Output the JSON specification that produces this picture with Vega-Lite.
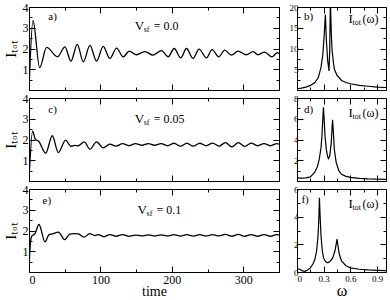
{
  "$schema": "https://vega.github.io/schema/vega-lite/v6.json",
  "padding": {"left": 2, "top": 0, "right": 1, "bottom": 0},
  "config": {
    "font": "Liberation Serif",
    "view": {"stroke": "black", "strokeWidth": 1},
    "axis": {"grid": false, "domain": false, "tickColor": "black", "tickSize": -4, "labelColor": "black", "labelFont": "Liberation Serif", "titleFont": "Liberation Serif", "titleFontWeight": "normal", "titleColor": "black", "labelPadding": 7}
  },
  "datasets": {
    "ta": [{"t":0,"I":0},{"t":5.6,"I":3.35},{"t":14.9,"I":1.08},{"t":24.7,"I":2.05},{"t":40.1,"I":1.6},{"t":50.3,"I":2.08},{"t":58.7,"I":1.39},{"t":67.6,"I":2.2},{"t":76,"I":1.36},{"t":85.3,"I":2.15},{"t":94.6,"I":1.39},{"t":103.9,"I":2.1},{"t":113.2,"I":1.52},{"t":122.6,"I":2.02},{"t":131.9,"I":1.6},{"t":140.3,"I":1.87},{"t":150.5,"I":1.7},{"t":162.2,"I":1.85},{"t":173.8,"I":1.68},{"t":185.5,"I":1.9},{"t":194.8,"I":1.6},{"t":203.2,"I":2.0},{"t":212.5,"I":1.55},{"t":220.4,"I":2.0},{"t":229.7,"I":1.52},{"t":238.1,"I":1.97},{"t":248.4,"I":1.55},{"t":256.3,"I":1.95},{"t":265.6,"I":1.6},{"t":274,"I":1.92},{"t":283.3,"I":1.68},{"t":292.6,"I":1.87},{"t":304.3,"I":1.7},{"t":313.6,"I":1.85},{"t":320.6,"I":1.7},{"t":329.9,"I":1.83},{"t":340.2,"I":1.6},{"t":347.6,"I":1.8},{"t":350,"I":1.75}],
    "tc": [{"t":0,"I":0},{"t":5.1,"I":2.4},{"t":9,"I":2.0},{"t":13.5,"I":1.92},{"t":23.3,"I":1.34},{"t":32.6,"I":2.18},{"t":41,"I":1.37},{"t":51.3,"I":1.97},{"t":58.7,"I":1.67},{"t":64,"I":1.72},{"t":69,"I":1.7},{"t":77.4,"I":1.89},{"t":85.3,"I":1.53},{"t":94.6,"I":1.89},{"t":104,"I":1.6},{"t":113,"I":1.78},{"t":122,"I":1.68},{"t":131,"I":1.8},{"t":140,"I":1.7},{"t":149,"I":1.8},{"t":158,"I":1.72},{"t":167,"I":1.8},{"t":176,"I":1.72},{"t":185,"I":1.8},{"t":194,"I":1.7},{"t":203,"I":1.82},{"t":212,"I":1.68},{"t":221,"I":1.82},{"t":230,"I":1.68},{"t":239,"I":1.82},{"t":248,"I":1.7},{"t":257,"I":1.83},{"t":266,"I":1.68},{"t":275,"I":1.85},{"t":284,"I":1.65},{"t":293,"I":1.85},{"t":302,"I":1.67},{"t":311,"I":1.83},{"t":320,"I":1.7},{"t":329,"I":1.8},{"t":338,"I":1.7},{"t":347,"I":1.8},{"t":350,"I":1.78}],
    "te": [{"t":0,"I":0},{"t":1.5,"I":1.2},{"t":3.7,"I":1.72},{"t":8.4,"I":1.85},{"t":14,"I":2.29},{"t":22.4,"I":1.45},{"t":28,"I":1.8},{"t":33,"I":1.84},{"t":41,"I":1.92},{"t":50,"I":1.56},{"t":57,"I":1.82},{"t":63,"I":1.85},{"t":69,"I":1.84},{"t":77,"I":1.68},{"t":85,"I":1.85},{"t":92,"I":1.76},{"t":97,"I":1.8},{"t":105,"I":1.7},{"t":113,"I":1.8},{"t":122,"I":1.72},{"t":131,"I":1.8},{"t":140,"I":1.72},{"t":149,"I":1.78},{"t":158,"I":1.74},{"t":167,"I":1.79},{"t":176,"I":1.74},{"t":185,"I":1.79},{"t":194,"I":1.74},{"t":203,"I":1.8},{"t":212,"I":1.73},{"t":221,"I":1.8},{"t":230,"I":1.73},{"t":239,"I":1.8},{"t":248,"I":1.74},{"t":257,"I":1.8},{"t":266,"I":1.74},{"t":275,"I":1.81},{"t":284,"I":1.73},{"t":293,"I":1.81},{"t":302,"I":1.72},{"t":311,"I":1.8},{"t":320,"I":1.72},{"t":329,"I":1.8},{"t":338,"I":1.72},{"t":347,"I":1.8},{"t":350,"I":1.79}],
    "sb": [{"w":0,"S":0.3},{"w":0.05,"S":0.45},{"w":0.1,"S":0.7},{"w":0.15,"S":1.1},{"w":0.2,"S":1.8},{"w":0.24,"S":3.0},{"w":0.27,"S":5.5},{"w":0.29,"S":8.5},{"w":0.305,"S":13},{"w":0.319,"S":18.2},{"w":0.33,"S":12},{"w":0.345,"S":7},{"w":0.36,"S":4.6},{"w":0.368,"S":10},{"w":0.375,"S":22},{"w":0.385,"S":14},{"w":0.394,"S":9.5},{"w":0.41,"S":6.5},{"w":0.42,"S":5},{"w":0.45,"S":3.5},{"w":0.5,"S":2.3},{"w":0.55,"S":1.8},{"w":0.6,"S":1.5},{"w":0.7,"S":1.1},{"w":0.8,"S":0.9},{"w":0.9,"S":0.7},{"w":1.0,"S":0.6}],
    "sd": [{"w":0,"S":0.3},{"w":0.05,"S":0.28},{"w":0.1,"S":0.3},{"w":0.15,"S":0.4},{"w":0.2,"S":0.85},{"w":0.23,"S":1.4},{"w":0.25,"S":2.1},{"w":0.27,"S":3.2},{"w":0.28,"S":4.3},{"w":0.29,"S":6.0},{"w":0.297,"S":7.1},{"w":0.305,"S":6.0},{"w":0.315,"S":4.3},{"w":0.33,"S":3.0},{"w":0.345,"S":2.3},{"w":0.355,"S":2.15},{"w":0.37,"S":2.5},{"w":0.385,"S":3.7},{"w":0.395,"S":5.3},{"w":0.4,"S":5.9},{"w":0.41,"S":4.5},{"w":0.42,"S":3.0},{"w":0.44,"S":1.8},{"w":0.47,"S":1.0},{"w":0.5,"S":0.65},{"w":0.55,"S":0.45},{"w":0.6,"S":0.35},{"w":0.7,"S":0.25},{"w":0.8,"S":0.2},{"w":0.9,"S":0.18},{"w":1.0,"S":0.15}],
    "sf": [{"w":0,"S":0.25},{"w":0.03,"S":0.2},{"w":0.06,"S":0.08},{"w":0.09,"S":0.05},{"w":0.12,"S":0.15},{"w":0.15,"S":0.3},{"w":0.18,"S":0.6},{"w":0.2,"S":0.9},{"w":0.22,"S":1.5},{"w":0.235,"S":2.5},{"w":0.245,"S":3.8},{"w":0.252,"S":5.36},{"w":0.26,"S":4.0},{"w":0.27,"S":2.6},{"w":0.285,"S":1.5},{"w":0.3,"S":1.0},{"w":0.32,"S":0.75},{"w":0.345,"S":0.67},{"w":0.37,"S":0.75},{"w":0.4,"S":1.0},{"w":0.425,"S":1.5},{"w":0.44,"S":2.0},{"w":0.45,"S":2.38},{"w":0.46,"S":1.9},{"w":0.475,"S":1.3},{"w":0.5,"S":0.8},{"w":0.55,"S":0.45},{"w":0.6,"S":0.3},{"w":0.7,"S":0.2},{"w":0.8,"S":0.15},{"w":0.9,"S":0.12},{"w":1.0,"S":0.1}]
  },
  "columns": 2,
  "spacing": {"row": 8, "column": 18},
  "bounds": "flush",
  "concat": [
      {"width": 250, "height": 83, "layer": [
        {"data": {"name": "ta"}, "mark": {"type": "line", "color": "black", "strokeWidth": 1.3, "interpolate": "monotone", "clip": true},
         "encoding": {
           "x": {"field": "t", "type": "quantitative", "scale": {"domain": [0, 350], "nice": false}, "axis": {"orient": "bottom", "values": [0,50,100,150,200,250,300,350], "tickSize": {"condition": {"test": "datum.value % 100 === 0", "value": -6}, "value": -3}, "labels": false, "title": null}},
           "y": {"field": "I", "type": "quantitative", "scale": {"domain": [0, 4], "nice": false}, "axis": {"orient": "left", "values": [0,0.5,1,1.5,2,2.5,3,3.5,4], "tickSize": {"condition": {"test": "datum.value % 1 === 0", "value": -6}, "value": -3}, "labelExpr": "datum.value % 1 === 0 && datum.value > 0 ? format(datum.value, 'd') : ''", "labelFontSize": 12, "title": "Iₜₒₜ", "titleFontSize": 15, "titlePadding": 4}}}},
        {"data": {"values": [{}]}, "mark": {"type": "text", "text": "a)", "align": "left", "baseline": "middle", "fontSize": 11},
         "encoding": {
           "x": {"datum": 27, "type": "quantitative", "scale": {"domain": [0, 350], "nice": false}, "axis": {"orient": "top", "values": [0,50,100,150,200,250,300,350], "tickSize": {"condition": {"test": "datum.value % 100 === 0", "value": -6}, "value": -3}, "labels": false, "title": null}},
           "y": {"datum": 3.5, "type": "quantitative", "scale": {"domain": [0, 4], "nice": false}, "axis": {"orient": "right", "values": [0,0.5,1,1.5,2,2.5,3,3.5,4], "tickSize": {"condition": {"test": "datum.value % 1 === 0", "value": -6}, "value": -3}, "labels": false, "title": null}}}},
        {"data": {"values": [{}]}, "mark": {"type": "text", "text": "V", "align": "left", "baseline": "middle", "fontSize": 13},
         "encoding": {"x": {"datum": 148, "type": "quantitative", "scale": {"domain": [0, 350], "nice": false}, "axis": null}, "y": {"datum": 3.1, "type": "quantitative", "scale": {"domain": [0, 4], "nice": false}, "axis": null}}},
        {"data": {"values": [{}]}, "mark": {"type": "text", "text": "sf", "align": "left", "baseline": "middle", "fontSize": 8, "dx": 9, "dy": 4},
         "encoding": {"x": {"datum": 148, "type": "quantitative", "scale": {"domain": [0, 350], "nice": false}, "axis": null}, "y": {"datum": 3.1, "type": "quantitative", "scale": {"domain": [0, 4], "nice": false}, "axis": null}}},
        {"data": {"values": [{}]}, "mark": {"type": "text", "text": "= 0.0", "align": "left", "baseline": "middle", "fontSize": 12, "dx": 19},
         "encoding": {"x": {"datum": 148, "type": "quantitative", "scale": {"domain": [0, 350], "nice": false}, "axis": null}, "y": {"datum": 3.1, "type": "quantitative", "scale": {"domain": [0, 4], "nice": false}, "axis": null}}}
      ], "resolve": {"axis": {"x": "independent", "y": "independent"}}},
      {"width": 89, "height": 83, "layer": [
        {"data": {"name": "sb"}, "mark": {"type": "line", "color": "black", "strokeWidth": 1.2, "clip": true},
         "encoding": {
           "x": {"field": "w", "type": "quantitative", "scale": {"domain": [0, 1], "nice": false}, "axis": {"orient": "bottom", "values": [0,0.15,0.3,0.45,0.6,0.75,0.9], "tickSize": {"condition": {"test": "indexof([0,0.3,0.6,0.9], datum.value) >= 0", "value": -6}, "value": -3}, "labels": false, "title": null}},
           "y": {"field": "S", "type": "quantitative", "scale": {"domain": [0, 20], "nice": false}, "axis": {"orient": "left", "values": [0,2.5,5,7.5,10,12.5,15,17.5,20], "tickSize": {"condition": {"test": "datum.value % 5 === 0", "value": -6}, "value": -3}, "labelExpr": "datum.value % 5 === 0 && datum.value > 0 ? format(datum.value, 'd') : ''", "labelFontSize": 9, "labelPadding": 5, "title": null}}}},
        {"data": {"values": [{}]}, "mark": {"type": "text", "text": "b)", "align": "left", "baseline": "middle", "fontSize": 11},
         "encoding": {
           "x": {"datum": 0.08, "type": "quantitative", "scale": {"domain": [0, 1], "nice": false}, "axis": {"orient": "top", "values": [0,0.15,0.3,0.45,0.6,0.75,0.9], "tickSize": {"condition": {"test": "indexof([0,0.3,0.6,0.9], datum.value) >= 0", "value": -6}, "value": -3}, "labels": false, "title": null}},
           "y": {"datum": 17.6, "type": "quantitative", "scale": {"domain": [0, 20], "nice": false}, "axis": {"orient": "right", "values": [0,2.5,5,7.5,10,12.5,15,17.5,20], "tickSize": {"condition": {"test": "datum.value % 5 === 0", "value": -6}, "value": -3}, "labels": false, "title": null}}}},
        {"data": {"values": [{}]}, "mark": {"type": "text", "text": "I", "align": "left", "baseline": "middle", "fontSize": 13},
         "encoding": {"x": {"datum": 0.58, "type": "quantitative", "scale": {"domain": [0, 1], "nice": false}, "axis": null}, "y": {"datum": 17.2, "type": "quantitative", "scale": {"domain": [0, 20], "nice": false}, "axis": null}}},
        {"data": {"values": [{}]}, "mark": {"type": "text", "text": "tot", "align": "left", "baseline": "middle", "fontSize": 8, "dx": 4, "dy": 4},
         "encoding": {"x": {"datum": 0.58, "type": "quantitative", "scale": {"domain": [0, 1], "nice": false}, "axis": null}, "y": {"datum": 17.2, "type": "quantitative", "scale": {"domain": [0, 20], "nice": false}, "axis": null}}},
        {"data": {"values": [{}]}, "mark": {"type": "text", "text": "(ω)", "align": "left", "baseline": "middle", "fontSize": 12, "dx": 14},
         "encoding": {"x": {"datum": 0.58, "type": "quantitative", "scale": {"domain": [0, 1], "nice": false}, "axis": null}, "y": {"datum": 17.2, "type": "quantitative", "scale": {"domain": [0, 20], "nice": false}, "axis": null}}}
      ], "resolve": {"axis": {"x": "independent", "y": "independent"}}},
      {"width": 250, "height": 83, "layer": [
        {"data": {"name": "tc"}, "mark": {"type": "line", "color": "black", "strokeWidth": 1.3, "interpolate": "monotone", "clip": true},
         "encoding": {
           "x": {"field": "t", "type": "quantitative", "scale": {"domain": [0, 350], "nice": false}, "axis": {"orient": "bottom", "values": [0,50,100,150,200,250,300,350], "tickSize": {"condition": {"test": "datum.value % 100 === 0", "value": -6}, "value": -3}, "labels": false, "title": null}},
           "y": {"field": "I", "type": "quantitative", "scale": {"domain": [0, 4], "nice": false}, "axis": {"orient": "left", "values": [0,0.5,1,1.5,2,2.5,3,3.5,4], "tickSize": {"condition": {"test": "datum.value % 1 === 0", "value": -6}, "value": -3}, "labelExpr": "datum.value % 1 === 0 && datum.value > 0 ? format(datum.value, 'd') : ''", "labelFontSize": 12, "title": "Iₜₒₜ", "titleFontSize": 15, "titlePadding": 4}}}},
        {"data": {"values": [{}]}, "mark": {"type": "text", "text": "c)", "align": "left", "baseline": "middle", "fontSize": 11},
         "encoding": {
           "x": {"datum": 27, "type": "quantitative", "scale": {"domain": [0, 350], "nice": false}, "axis": {"orient": "top", "values": [0,50,100,150,200,250,300,350], "tickSize": {"condition": {"test": "datum.value % 100 === 0", "value": -6}, "value": -3}, "labels": false, "title": null}},
           "y": {"datum": 3.4, "type": "quantitative", "scale": {"domain": [0, 4], "nice": false}, "axis": {"orient": "right", "values": [0,0.5,1,1.5,2,2.5,3,3.5,4], "tickSize": {"condition": {"test": "datum.value % 1 === 0", "value": -6}, "value": -3}, "labels": false, "title": null}}}},
        {"data": {"values": [{}]}, "mark": {"type": "text", "text": "V", "align": "left", "baseline": "middle", "fontSize": 13},
         "encoding": {"x": {"datum": 148, "type": "quantitative", "scale": {"domain": [0, 350], "nice": false}, "axis": null}, "y": {"datum": 3.0, "type": "quantitative", "scale": {"domain": [0, 4], "nice": false}, "axis": null}}},
        {"data": {"values": [{}]}, "mark": {"type": "text", "text": "sf", "align": "left", "baseline": "middle", "fontSize": 8, "dx": 9, "dy": 4},
         "encoding": {"x": {"datum": 148, "type": "quantitative", "scale": {"domain": [0, 350], "nice": false}, "axis": null}, "y": {"datum": 3.0, "type": "quantitative", "scale": {"domain": [0, 4], "nice": false}, "axis": null}}},
        {"data": {"values": [{}]}, "mark": {"type": "text", "text": "= 0.05", "align": "left", "baseline": "middle", "fontSize": 12, "dx": 19},
         "encoding": {"x": {"datum": 148, "type": "quantitative", "scale": {"domain": [0, 350], "nice": false}, "axis": null}, "y": {"datum": 3.0, "type": "quantitative", "scale": {"domain": [0, 4], "nice": false}, "axis": null}}}
      ], "resolve": {"axis": {"x": "independent", "y": "independent"}}},
      {"width": 89, "height": 83, "layer": [
        {"data": {"name": "sd"}, "mark": {"type": "line", "color": "black", "strokeWidth": 1.2, "clip": true},
         "encoding": {
           "x": {"field": "w", "type": "quantitative", "scale": {"domain": [0, 1], "nice": false}, "axis": {"orient": "bottom", "values": [0,0.15,0.3,0.45,0.6,0.75,0.9], "tickSize": {"condition": {"test": "indexof([0,0.3,0.6,0.9], datum.value) >= 0", "value": -6}, "value": -3}, "labels": false, "title": null}},
           "y": {"field": "S", "type": "quantitative", "scale": {"domain": [0, 8], "nice": false}, "axis": {"orient": "left", "values": [0,1,2,3,4,5,6,7,8], "tickSize": {"condition": {"test": "datum.value % 2 === 0", "value": -6}, "value": -3}, "labelExpr": "datum.value % 2 === 0 && datum.value > 0 ? format(datum.value, 'd') : ''", "labelFontSize": 9, "labelPadding": 5, "title": null}}}},
        {"data": {"values": [{}]}, "mark": {"type": "text", "text": "d)", "align": "left", "baseline": "middle", "fontSize": 11},
         "encoding": {
           "x": {"datum": 0.08, "type": "quantitative", "scale": {"domain": [0, 1], "nice": false}, "axis": {"orient": "top", "values": [0,0.15,0.3,0.45,0.6,0.75,0.9], "tickSize": {"condition": {"test": "indexof([0,0.3,0.6,0.9], datum.value) >= 0", "value": -6}, "value": -3}, "labels": false, "title": null}},
           "y": {"datum": 6.8, "type": "quantitative", "scale": {"domain": [0, 8], "nice": false}, "axis": {"orient": "right", "values": [0,1,2,3,4,5,6,7,8], "tickSize": {"condition": {"test": "datum.value % 2 === 0", "value": -6}, "value": -3}, "labels": false, "title": null}}}},
        {"data": {"values": [{}]}, "mark": {"type": "text", "text": "I", "align": "left", "baseline": "middle", "fontSize": 13},
         "encoding": {"x": {"datum": 0.58, "type": "quantitative", "scale": {"domain": [0, 1], "nice": false}, "axis": null}, "y": {"datum": 6.55, "type": "quantitative", "scale": {"domain": [0, 8], "nice": false}, "axis": null}}},
        {"data": {"values": [{}]}, "mark": {"type": "text", "text": "tot", "align": "left", "baseline": "middle", "fontSize": 8, "dx": 4, "dy": 4},
         "encoding": {"x": {"datum": 0.58, "type": "quantitative", "scale": {"domain": [0, 1], "nice": false}, "axis": null}, "y": {"datum": 6.55, "type": "quantitative", "scale": {"domain": [0, 8], "nice": false}, "axis": null}}},
        {"data": {"values": [{}]}, "mark": {"type": "text", "text": "(ω)", "align": "left", "baseline": "middle", "fontSize": 12, "dx": 14},
         "encoding": {"x": {"datum": 0.58, "type": "quantitative", "scale": {"domain": [0, 1], "nice": false}, "axis": null}, "y": {"datum": 6.55, "type": "quantitative", "scale": {"domain": [0, 8], "nice": false}, "axis": null}}}
      ], "resolve": {"axis": {"x": "independent", "y": "independent"}}},
      {"width": 250, "height": 83, "layer": [
        {"data": {"name": "te"}, "mark": {"type": "line", "color": "black", "strokeWidth": 1.3, "interpolate": "monotone", "clip": true},
         "encoding": {
           "x": {"field": "t", "type": "quantitative", "scale": {"domain": [0, 350], "nice": false}, "axis": {"orient": "bottom", "values": [0,50,100,150,200,250,300,350], "tickSize": {"condition": {"test": "datum.value % 100 === 0", "value": -6}, "value": -3}, "labelExpr": "datum.value % 100 === 0 ? datum.label : ''", "labelFontSize": 12, "labelPadding": 8, "title": "time", "titleFontSize": 14, "titlePadding": -1}},
           "y": {"field": "I", "type": "quantitative", "scale": {"domain": [0, 4], "nice": false}, "axis": {"orient": "left", "values": [0,0.5,1,1.5,2,2.5,3,3.5,4], "tickSize": {"condition": {"test": "datum.value % 1 === 0", "value": -6}, "value": -3}, "labelExpr": "datum.value % 1 === 0 && datum.value > 0 ? format(datum.value, 'd') : ''", "labelFontSize": 12, "title": "Iₜₒₜ", "titleFontSize": 15, "titlePadding": 4}}}},
        {"data": {"values": [{}]}, "mark": {"type": "text", "text": "e)", "align": "left", "baseline": "middle", "fontSize": 11},
         "encoding": {
           "x": {"datum": 19, "type": "quantitative", "scale": {"domain": [0, 350], "nice": false}, "axis": {"orient": "top", "values": [0,50,100,150,200,250,300,350], "tickSize": {"condition": {"test": "datum.value % 100 === 0", "value": -6}, "value": -3}, "labels": false, "title": null}},
           "y": {"datum": 3.43, "type": "quantitative", "scale": {"domain": [0, 4], "nice": false}, "axis": {"orient": "right", "values": [0,0.5,1,1.5,2,2.5,3,3.5,4], "tickSize": {"condition": {"test": "datum.value % 1 === 0", "value": -6}, "value": -3}, "labels": false, "title": null}}}},
        {"data": {"values": [{}]}, "mark": {"type": "text", "text": "V", "align": "left", "baseline": "middle", "fontSize": 13},
         "encoding": {"x": {"datum": 152, "type": "quantitative", "scale": {"domain": [0, 350], "nice": false}, "axis": null}, "y": {"datum": 3.0, "type": "quantitative", "scale": {"domain": [0, 4], "nice": false}, "axis": null}}},
        {"data": {"values": [{}]}, "mark": {"type": "text", "text": "sf", "align": "left", "baseline": "middle", "fontSize": 8, "dx": 9, "dy": 4},
         "encoding": {"x": {"datum": 152, "type": "quantitative", "scale": {"domain": [0, 350], "nice": false}, "axis": null}, "y": {"datum": 3.0, "type": "quantitative", "scale": {"domain": [0, 4], "nice": false}, "axis": null}}},
        {"data": {"values": [{}]}, "mark": {"type": "text", "text": "= 0.1", "align": "left", "baseline": "middle", "fontSize": 12, "dx": 19},
         "encoding": {"x": {"datum": 152, "type": "quantitative", "scale": {"domain": [0, 350], "nice": false}, "axis": null}, "y": {"datum": 3.0, "type": "quantitative", "scale": {"domain": [0, 4], "nice": false}, "axis": null}}}
      ], "resolve": {"axis": {"x": "independent", "y": "independent"}}},
      {"width": 89, "height": 83, "layer": [
        {"data": {"name": "sf"}, "mark": {"type": "line", "color": "black", "strokeWidth": 1.2, "clip": true},
         "encoding": {
           "x": {"field": "w", "type": "quantitative", "scale": {"domain": [0, 1], "nice": false}, "axis": {"orient": "bottom", "values": [0,0.15,0.3,0.45,0.6,0.75,0.9], "tickSize": {"condition": {"test": "indexof([0,0.3,0.6,0.9], datum.value) >= 0", "value": -6}, "value": -3}, "labelExpr": "indexof([0,0.3,0.6,0.9], datum.value) >= 0 ? format(datum.value, '~g') : ''", "labelFontSize": 9, "labelPadding": 8, "title": "ω", "titleFontSize": 16, "titlePadding": -1}},
           "y": {"field": "S", "type": "quantitative", "scale": {"domain": [0, 6], "nice": false}, "axis": {"orient": "left", "values": [0,1,2,3,4,5,6], "tickSize": {"condition": {"test": "datum.value % 2 === 0", "value": -6}, "value": -3}, "labelExpr": "datum.value % 2 === 0 ? format(datum.value, 'd') : ''", "labelFontSize": 9, "labelPadding": 5, "title": null}}}},
        {"data": {"values": [{}]}, "mark": {"type": "text", "text": "f)", "align": "left", "baseline": "middle", "fontSize": 11},
         "encoding": {
           "x": {"datum": 0.05, "type": "quantitative", "scale": {"domain": [0, 1], "nice": false}, "axis": {"orient": "top", "values": [0,0.15,0.3,0.45,0.6,0.75,0.9], "tickSize": {"condition": {"test": "indexof([0,0.3,0.6,0.9], datum.value) >= 0", "value": -6}, "value": -3}, "labels": false, "title": null}},
           "y": {"datum": 5.2, "type": "quantitative", "scale": {"domain": [0, 6], "nice": false}, "axis": {"orient": "right", "values": [0,1,2,3,4,5,6], "tickSize": {"condition": {"test": "datum.value % 2 === 0", "value": -6}, "value": -3}, "labels": false, "title": null}}}},
        {"data": {"values": [{}]}, "mark": {"type": "text", "text": "I", "align": "left", "baseline": "middle", "fontSize": 13},
         "encoding": {"x": {"datum": 0.58, "type": "quantitative", "scale": {"domain": [0, 1], "nice": false}, "axis": null}, "y": {"datum": 4.9, "type": "quantitative", "scale": {"domain": [0, 6], "nice": false}, "axis": null}}},
        {"data": {"values": [{}]}, "mark": {"type": "text", "text": "tot", "align": "left", "baseline": "middle", "fontSize": 8, "dx": 4, "dy": 4},
         "encoding": {"x": {"datum": 0.58, "type": "quantitative", "scale": {"domain": [0, 1], "nice": false}, "axis": null}, "y": {"datum": 4.9, "type": "quantitative", "scale": {"domain": [0, 6], "nice": false}, "axis": null}}},
        {"data": {"values": [{}]}, "mark": {"type": "text", "text": "(ω)", "align": "left", "baseline": "middle", "fontSize": 12, "dx": 14},
         "encoding": {"x": {"datum": 0.58, "type": "quantitative", "scale": {"domain": [0, 1], "nice": false}, "axis": null}, "y": {"datum": 4.9, "type": "quantitative", "scale": {"domain": [0, 6], "nice": false}, "axis": null}}}
      ], "resolve": {"axis": {"x": "independent", "y": "independent"}}}
  ]
}
